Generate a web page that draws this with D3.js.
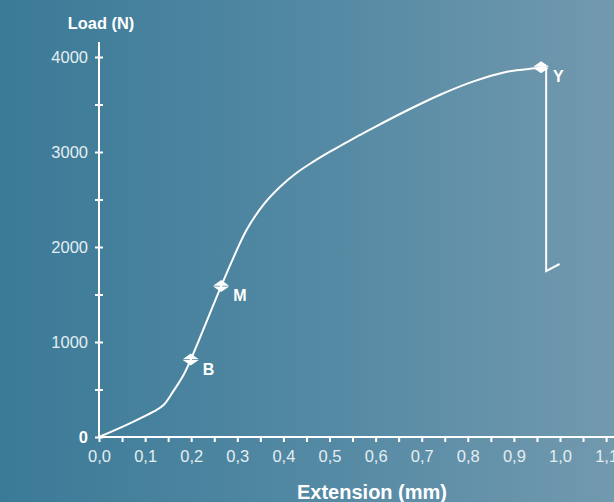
<!DOCTYPE html>
<html>
<head>
<meta charset="utf-8">
<script src="https://cdn.jsdelivr.net/npm/d3@7"></script>
<style>
  html, body { margin: 0; padding: 0; }
  svg { display: block; font-family: "Liberation Sans", Arial, Helvetica, sans-serif; }
</style>
</head>
<body>
<div id="chart"></div>
<script>
// load / extension curve
let extension = [0, 0.067, 0.118, 0.14, 0.161, 0.183, 0.199, 0.265, 0.291, 0.32, 0.356, 0.393, 0.429, 0.465, 0.501, 0.537, 0.566, 0.594, 0.668, 0.74, 0.811, 0.885, 0.95, 0.959, 0.97];
let load = [0, 144, 266, 337, 480, 650, 815, 1589, 1881, 2179, 2442, 2635, 2782, 2898, 3003, 3102, 3179, 3252, 3437, 3603, 3741, 3845, 3884, 3892, 3892];

// fracture: straight drop after Y
let fractureExt = [0.97, 0.97, 0.999];
let fractureLoad = [3892, 1747, 1821];

let markerNames = ['B', 'M', 'Y'];
let markerExt = [0.199, 0.265, 0.959];
let markerLoad = [815, 1589, 3892];

let xTicks = [0, 0.1, 0.2, 0.3, 0.4, 0.5, 0.6, 0.7, 0.8, 0.9, 1.0, 1.1];
let xMinorTicks = [0.05, 0.15, 0.25, 0.35, 0.45, 0.55, 0.65, 0.75, 0.85, 0.95, 1.05];
let yTicks = [0, 1000, 2000, 3000, 4000];
let yMinorTicks = [500, 1500, 2500, 3500];

var width = 614, height = 502;
var x = d3.scaleLinear().domain([0, 1]).range([99, 560]);
var y = d3.scaleLinear().domain([0, 4000]).range([437, 57]);

var comma = d3.formatLocale({decimal: ',', thousands: '.', grouping: [3], currency: ['', '']}).format('.1f');

var svg = d3.select('#chart').append('svg')
  .attr('width', width)
  .attr('height', height);

var grad = svg.append('defs').append('linearGradient')
  .attr('id', 'bg')
  .attr('x1', '0%').attr('x2', '100%').attr('y1', '0%').attr('y2', '0%');
grad.append('stop').attr('offset', '0%').attr('stop-color', '#3b7a97');
grad.append('stop').attr('offset', '55%').attr('stop-color', '#558aa4');
grad.append('stop').attr('offset', '100%').attr('stop-color', '#7299ae');

svg.append('rect')
  .attr('width', width)
  .attr('height', height)
  .attr('fill', 'url(#bg)');

// x axis
var xAxis = svg.append('g')
  .attr('transform', 'translate(0,' + y(0) + ')');
xAxis.call(d3.axisBottom(x).tickValues(xTicks.concat(xMinorTicks)).tickSize(5).tickSizeOuter(0)
  .tickFormat(function (d) { return xTicks.indexOf(d) >= 0 ? comma(d) : ''; }));
xAxis.select('.domain').attr('d', 'M' + x(0) + ',0H' + width);

// y axis
var yAxis = svg.append('g')
  .attr('transform', 'translate(' + x(0) + ',0)');
yAxis.call(d3.axisLeft(y).tickValues(yTicks.concat(yMinorTicks)).tickSize(4).tickSizeOuter(0)
  .tickFormat(function (d) { return yTicks.indexOf(d) >= 0 ? d : ''; }));
yAxis.select('.domain').attr('d', 'M0,' + y(0) + 'V42');
yAxis.selectAll('.tick line').attr('x1', 4);

svg.selectAll('.domain, .tick line')
  .attr('stroke', '#ffffff')
  .attr('stroke-width', 2);

xAxis.selectAll('.tick text')
  .attr('dy', null)
  .attr('y', 25)
  .attr('fill', '#e4eef2')
  .style('font-size', '16.5px');

yAxis.selectAll('.tick text')
  .attr('x', -11)
  .attr('dy', '0.36em')
  .style('font-size', '16.5px')
  .style('font-weight', function (d) { return d === 0 ? 'bold' : 'normal'; })
  .attr('fill', function (d) { return d === 0 ? '#ffffff' : '#e4eef2'; });

// axis titles
svg.append('text')
  .attr('x', x(0) + 2)
  .attr('y', 29)
  .attr('text-anchor', 'middle')
  .attr('fill', '#ffffff')
  .style('font-size', '16.4px')
  .style('font-weight', 'bold')
  .text('Load (N)');

svg.append('text')
  .attr('x', 372)
  .attr('y', 499)
  .attr('text-anchor', 'middle')
  .attr('fill', '#ffffff')
  .style('font-size', '20px')
  .style('font-weight', 'bold')
  .text('Extension (mm)');

// curve
var curve = d3.line()
  .x(function (d, i) { return x(extension[i]); })
  .y(function (d, i) { return y(load[i]); })
  .curve(d3.curveCatmullRom.alpha(0.5));

svg.append('path')
  .attr('d', curve(load))
  .attr('fill', 'none')
  .attr('stroke', '#ffffff')
  .attr('stroke-width', 2);

var fracture = d3.line()
  .x(function (d, i) { return x(fractureExt[i]); })
  .y(function (d, i) { return y(fractureLoad[i]); });

svg.append('path')
  .attr('d', fracture(fractureLoad))
  .attr('fill', 'none')
  .attr('stroke', '#ffffff')
  .attr('stroke-width', 2);

// markers: two halves of a diamond
var markers = svg.selectAll('.marker')
  .data(markerNames)
  .enter().append('g')
  .attr('class', 'marker')
  .attr('transform', function (d, i) { return 'translate(' + x(markerExt[i]) + ',' + y(markerLoad[i]) + ')'; });

markers.append('path')
  .attr('d', 'M-8,-0.4L0,-6L8,-0.4Z M-8,0.4L0,6L8,0.4Z')
  .attr('fill', '#ffffff');

markers.append('text')
  .attr('x', 12)
  .attr('y', 15)
  .attr('fill', '#ffffff')
  .style('font-size', '16px')
  .style('font-weight', 'bold')
  .text(function (d) { return d; });
</script>
</body>
</html>
